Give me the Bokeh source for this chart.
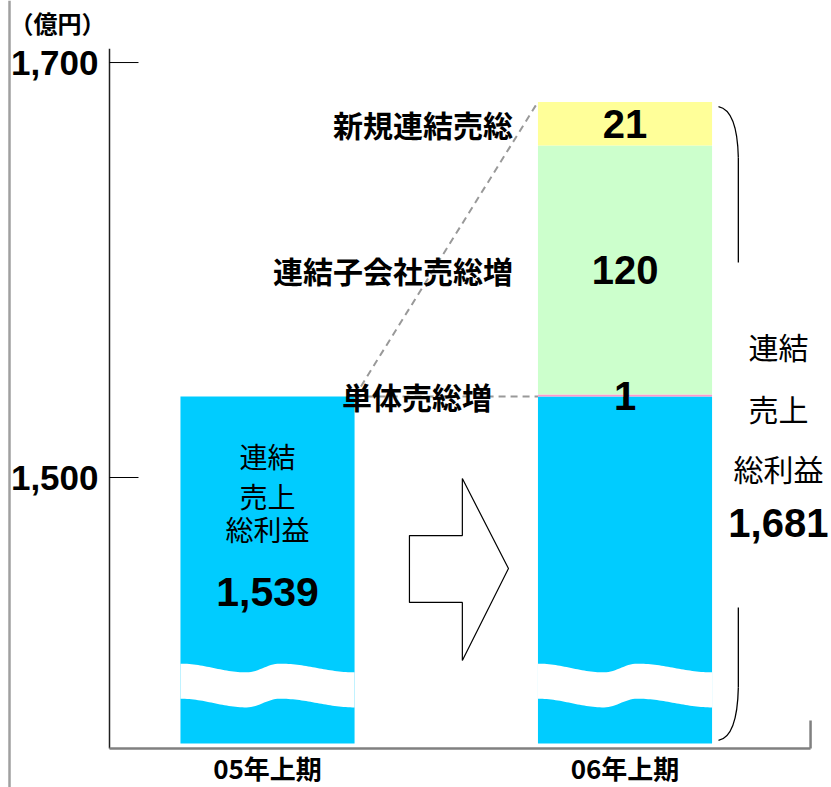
from bokeh.plotting import figure
from bokeh.models import Range1d
from bokeh.core.properties import value
from bokeh.embed import file_html
from bokeh.resources import INLINE
import numpy as np

# ---------------- data ----------------
periods = ["05年上期", "06年上期"]
prev_total = 1539            # 05年上期 連結売上総利益
step_names = ["単体売総増", "連結子会社売総増", "新規連結売総"]
step_values = [1, 120, 21]
curr_total = 1681            # 06年上期 連結売上総利益
y_ticks = [1500, 1700]
y_tick_labels = ["1,500", "1,700"]
unit_label = "（億円）"
bar_title = ["連結", "売上", "総利益"]
prev_label = "1,539"
curr_label = "1,681"

# ---------------- style / layout ----------------
BLUE = "#00CCFF"
STEP_COLORS = ["#FF99CC", "#CCFFCC", "#FFFF99"]
JP = value("Noto Sans CJK JP")
NUM = value("Liberation Sans")

x_pos = [1, 2]
bw = 0.487
floor = 1371.8               # visual floor of the broken axis
ybase = 1369.4               # baseline of the broken axis
x0, x1 = 0.2531, 2.5776      # whole canvas
y0, y1 = 1350.6, 1729.9
x_axis = 0.558               # position of the value axis
y_axis_top = 1706.7
tick_len = 0.0811

p = figure(width=831, height=787, output_backend="svg", toolbar_location=None,
           x_range=Range1d(x0, x1), y_range=Range1d(y0, y1),
           min_border=0, min_border_left=0, min_border_right=0,
           min_border_top=0, min_border_bottom=0)
p.outline_line_color = None
p.xgrid.visible = False
p.ygrid.visible = False
p.xaxis.visible = False
p.yaxis.visible = False
p.background_fill_color = "white"
p.border_fill_color = "white"

# page border line on the left
p.segment(x0=[0.2783], y0=[y0], x1=[0.2783], y1=[y1], line_color="#a0a0a0",
          line_width=2.5)

# value axis: line, ticks, labels, unit
p.segment(x0=[x_axis], y0=[ybase], x1=[x_axis], y1=[y_axis_top],
          line_color="#202020", line_width=1.5)
p.segment(x0=[x_axis] * len(y_ticks), y0=y_ticks, x1=[x_axis + tick_len] * len(y_ticks),
          y1=y_ticks, line_color="black", line_width=1)
p.text(x=[x_axis] * len(y_ticks), y=y_ticks, text=y_tick_labels, x_offset=-11,
       text_align="right", text_baseline="middle", text_font=NUM,
       text_font_style="bold", text_font_size="35px", text_color="black")
p.text(x=[0.4126], y=[1719.3], text=[unit_label], text_align="center",
       text_baseline="middle", text_font=JP, text_font_style="bold",
       text_font_size="24px", text_color="black")

# base bars
p.quad(left=[x - bw / 2 for x in x_pos], right=[x + bw / 2 for x in x_pos],
       bottom=floor, top=[prev_total, prev_total], fill_color=BLUE, line_color=None)

# step segments on 06 bar
tops = list(np.cumsum(step_values) + prev_total)
bottoms = [prev_total] + tops[:-1]
p.quad(left=x_pos[1] - bw / 2, right=x_pos[1] + bw / 2, bottom=bottoms, top=tops,
       fill_color=STEP_COLORS, line_color=None)

# wave break (decoration)
t = np.linspace(0, 1, 80)
knots = [0.0, 0.38, 0.57, 1.0]
def wave(tt):
    out = np.zeros_like(tt)
    for i in range(len(knots) - 1):
        a, b = knots[i], knots[i + 1]
        m = (tt >= a) & (tt <= b)
        ph = (tt[m] - a) / (b - a)
        s = np.cos(np.pi * ph)
        out[m] = s if i % 2 == 0 else -s
    return out
amp = 2.1
w_hi, w_lo = 1408.2, 1391.3
for xc in x_pos:
    xs = xc - bw / 2 + t * bw
    upper = w_hi + amp * wave(t)
    lower = w_lo + amp * wave(t)
    p.patch(np.concatenate([xs, xs[::-1]]), np.concatenate([upper, lower[::-1]]),
            fill_color="white", line_color=None)

# dashed connectors
xr1 = x_pos[0] + bw / 2
xl2 = x_pos[1] - bw / 2
p.segment(x0=[xr1, xr1], y0=[prev_total, prev_total], x1=[xl2, xl2],
          y1=[prev_total, curr_total], line_color="#999999", line_width=2,
          line_dash="7 5")

# arrow (decoration)
ax = [1.397, 1.545, 1.545, 1.674, 1.545, 1.545, 1.397]
ay = [1472.0, 1472.0, 1499.5, 1456.1, 1411.8, 1439.8, 1439.8]
p.patch(ax, ay, fill_color="white", line_color="black", line_width=1.2)

# brace
bx0, bx1 = 2.2615, 2.317
p.quadratic(x0=[bx0], y0=[1678.8], x1=[bx1], y1=[1654.2], cx=[bx1 - 0.003], cy=[1677.0],
            line_color="black", line_width=1.3)
p.segment(x0=[bx1, bx1], y0=[1654.2, 1437.3], x1=[bx1, bx1], y1=[1603.6, 1398.8],
          line_color="black", line_width=1.3)
p.quadratic(x0=[bx1], y0=[1398.8], x1=[bx0], y1=[1373.3], cx=[bx1 - 0.003], cy=[1375.0],
            line_color="black", line_width=1.3)

# category baseline with right end tick
p.segment(x0=[x_axis, 2.519], y0=[ybase, ybase], x1=[2.519, 2.519], y1=[ybase, 1382.9],
          line_color="#808080", line_width=2.5)

# category labels below the baseline
p.text(x=x_pos, y=[1360.0] * 2, text=periods, text_align="center",
       text_baseline="middle", text_font=JP, text_font_style="bold",
       text_font_size="26px", text_color="black")

# step labels
mids = [(b + tp) / 2 for b, tp in zip(bottoms, tops)]
p.text(x=[xl2] * 3, y=mids, text=step_names, x_offset=[-46, -25, -25],
       text_align="right", text_baseline="middle", text_font=JP,
       text_font_style="bold", text_font_size="30px", text_color="black")
p.text(x=[x_pos[1]] * 3, y=mids, text=[str(v) for v in step_values],
       text_align="center", text_baseline="middle", text_font=NUM,
       text_font_style="bold", text_font_size="40px", text_color="black")

# 05 bar labels
p.text(x=[x_pos[0]] * 3, y=[1510.6, 1491.3, 1475.4], text=bar_title,
       text_align="center", text_baseline="middle", text_font=JP,
       text_font_size="28px", text_color="black")
p.text(x=[x_pos[0]], y=[1444.6], text=[prev_label], text_align="center",
       text_baseline="middle", text_font=NUM, text_font_style="bold",
       text_font_size="41px", text_color="black")

# right labels
p.text(x=[2.429] * 3, y=[1563.6, 1533.7, 1504.8], text=bar_title,
       text_align="center", text_baseline="middle", text_font=JP,
       text_font_size="30px", text_color="black")
p.text(x=[2.429], y=[1478.3], text=[curr_label], text_align="center",
       text_baseline="middle", text_font=NUM, text_font_style="bold",
       text_font_size="40px", text_color="black")

open("out.html", "w").write(file_html(p, INLINE))
